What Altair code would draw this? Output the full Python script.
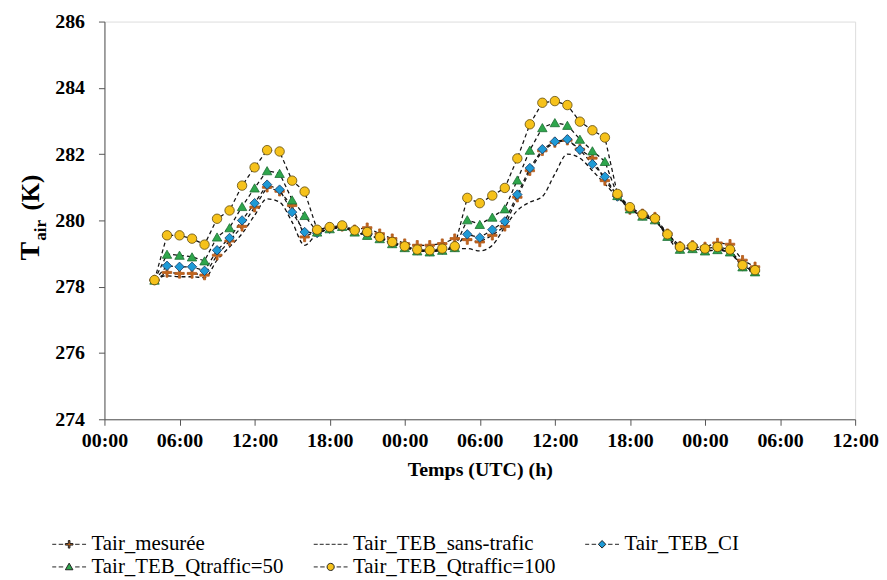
import altair as alt
import pandas as pd

hours = list(range(4, 53))

series_names = ["Tair_mesurée", "Tair_TEB_sans-trafic", "Tair_TEB_CI",
                "Tair_TEB_Qtraffic=50", "Tair_TEB_Qtraffic=100"]

t_mesuree = [278.2, 278.43, 278.4, 278.4, 278.35, 278.95, 279.38, 279.82, 280.4, 281.0,
             280.88, 280.45, 279.5, 279.7, 279.78, 279.82, 279.72, 279.78, 279.6, 279.45,
             279.3, 279.25, 279.25, 279.3, 279.45, 279.42, 279.35, 279.55, 279.82, 280.7,
             281.5, 282.1, 282.35, 282.42, 282.15, 281.88, 281.2, 280.75, 280.33, 280.2,
             280.1, 279.6, 279.22, 279.25, 279.2, 279.32, 279.28, 278.8, 278.6]

t_sans_trafic = [278.2, 278.33, 278.3, 278.3, 278.27, 278.8, 279.2, 279.6, 280.15, 280.65,
                 280.55, 279.95, 279.25, 279.6, 279.72, 279.78, 279.65, 279.55, 279.45, 279.3,
                 279.18, 279.1, 279.08, 279.1, 279.15, 279.15, 279.08, 279.25, 279.8, 280.3,
                 280.55, 280.72, 281.4, 282.0, 281.88, 281.5, 281.1, 280.7, 280.35, 280.12,
                 280.0, 279.5, 279.12, 279.15, 279.08, 279.1, 279.05, 278.58, 278.45]

t_ci = [278.2, 278.63, 278.6, 278.6, 278.48, 279.1, 279.47, 280.0, 280.52, 281.08,
        280.93, 280.25, 279.65, 279.62, 279.75, 279.82, 279.68, 279.58, 279.48, 279.32,
        279.2, 279.1, 279.07, 279.12, 279.2, 279.58, 279.48, 279.72, 279.97, 280.78,
        281.58, 282.15, 282.38, 282.45, 282.13, 281.7, 281.32, 280.72, 280.35, 280.15,
        280.03, 279.55, 279.15, 279.18, 279.1, 279.15, 279.08, 278.62, 278.47]

t_q50 = [278.2, 278.98, 278.95, 278.9, 278.78, 279.5, 279.78, 280.42, 280.98, 281.5,
         281.42, 280.62, 280.15, 279.65, 279.75, 279.82, 279.65, 279.55, 279.45, 279.3,
         279.18, 279.08, 279.05, 279.1, 279.18, 280.02, 279.88, 280.1, 280.35, 281.22,
         282.12, 282.8, 282.95, 282.87, 282.45, 282.1, 281.78, 280.75, 280.35, 280.13,
         280.02, 279.52, 279.13, 279.15, 279.08, 279.12, 279.05, 278.6, 278.45]

t_q100 = [278.2, 279.55, 279.55, 279.45, 279.27, 280.05, 280.3, 281.05, 281.6, 282.12,
          282.08, 281.2, 280.87, 279.72, 279.8, 279.85, 279.7, 279.65, 279.5, 279.35,
          279.22, 279.12, 279.1, 279.15, 279.22, 280.68, 280.52, 280.75, 280.98, 281.87,
          282.9, 283.55, 283.6, 283.48, 282.98, 282.72, 282.5, 280.8, 280.4, 280.18,
          280.06, 279.58, 279.2, 279.22, 279.15, 279.2, 279.12, 278.65, 278.5]

all_values = [t_mesuree, t_sans_trafic, t_ci, t_q50, t_q100]

x_ticks = list(range(0, 61, 6))
y_ticks = list(range(274, 287, 2))

# marker styling (plot)
marker_series = ["Tair_mesurée", "Tair_TEB_CI", "Tair_TEB_Qtraffic=50", "Tair_TEB_Qtraffic=100"]
marker_fill = ["#C4661C", "#1E9AD6", "#2EA64C", "#F6C21B"]
marker_stroke = ["#B0581A", "#1B3D66", "#1D6E34", "#5E4A10"]
cross_path = ("M-1,-0.22L-0.22,-0.22L-0.22,-1L0.22,-1L0.22,-0.22L1,-0.22L1,0.22"
              "L0.22,0.22L0.22,1L-0.22,1L-0.22,0.22L-1,0.22Z")
marker_shapes = [cross_path, "diamond", "triangle-up", "circle"]

# legend symbols: dashes + marker
dash_l = "M-1.7,0L-1.3,0M-1.05,0L-0.6,0"
dash_r = "M0.6,0L1.05,0M1.3,0L1.7,0"
m = 0.38
leg_cross = (f"M{-m},-0.08L-0.08,-0.08L-0.08,{-m}L0.08,{-m}L0.08,-0.08L{m},-0.08"
             f"L{m},0.08L0.08,0.08L0.08,{m}L-0.08,{m}L-0.08,0.08L{-m},0.08Z")
leg_diamond = f"M{-m},0L0,{-m}L{m},0L0,{m}Z"
leg_tri = f"M0,{-m}L{m},{m*0.75}L{-m},{m*0.75}Z"
r = 0.36
leg_circle = f"M{-r},0A{r},{r} 0 1,0 {r},0A{r},{r} 0 1,0 {-r},0Z"
leg_sans = "M-1.7,0L-1.3,0M-1.1,0L-0.7,0M-0.5,0L-0.1,0M0.1,0L0.5,0M0.7,0L1.1,0M1.3,0L1.7,0"
legend_paths = [dash_l + dash_r + leg_cross, leg_sans, dash_l + dash_r + leg_diamond,
                dash_l + dash_r + leg_tri, dash_l + dash_r + leg_circle]
legend_fill = ["#C4661C", "#000000", "#1E9AD6", "#2EA64C", "#F6C21B"]
legend_stroke = ["#222222"] * 5

rows = []
for k, (name, vals) in enumerate(zip(series_names, all_values)):
    for h, v in zip(hours, vals):
        rows.append({"hour": h, "temp": v, "series": name, "idx": k})
df = pd.DataFrame(rows)

serif = "Liberation Serif, Times New Roman, Tinos, Noto Serif, DejaVu Serif, serif"

xscale = alt.Scale(domain=[0, 60], nice=False, zero=False)
yscale = alt.Scale(domain=[274, 286], nice=False, zero=False)

xaxis = alt.Axis(values=x_ticks,
                 labelExpr="(datum.value % 24 < 10 ? '0' : '') + (datum.value % 24) + ':00'",
                 title="Temps (UTC) (h)", titleFont=serif, titleFontWeight="bold",
                 titleFontSize=20, titleColor="black", titlePadding=10,
                 labelFont=serif, labelFontWeight="bold", labelFontSize=20, labelColor="black",
                 labelPadding=5, tickSize=6, grid=False, domainColor="#555", tickColor="#555",
                 labelFlush=False, labelOverlap=False)
yaxis = alt.Axis(values=y_ticks, title=None, labelFont=serif, labelFontWeight="bold",
                 labelFontSize=20, labelColor="black", labelPadding=14, tickSize=6,
                 grid=False, domainColor="#555", tickColor="#555")

X = alt.X("hour:Q", scale=xscale, axis=xaxis)
Y = alt.Y("temp:Q", scale=yscale, axis=yaxis)

base = alt.Chart(df)

lines = base.transform_filter(alt.datum.series != "Tair_TEB_sans-trafic").mark_line(
    strokeDash=[4, 3], strokeWidth=1.25, color="#111111", clip=True
).encode(x=X, y=Y, detail="series:N")

sans = base.transform_filter(alt.datum.series == "Tair_TEB_sans-trafic").mark_line(
    strokeDash=[4, 3], strokeWidth=1.3, color="#111111", clip=True, interpolate="monotone"
).encode(x=X, y=Y)

points = base.transform_filter(alt.datum.series != "Tair_TEB_sans-trafic").mark_point(
    filled=True, size=90, strokeWidth=0.8, opacity=1
).encode(
    x=X, y=Y,
    fill=alt.Fill("series:N", scale=alt.Scale(domain=marker_series, range=marker_fill), legend=None),
    stroke=alt.Stroke("series:N", scale=alt.Scale(domain=marker_series, range=marker_stroke), legend=None),
    shape=alt.Shape("series:N", scale=alt.Scale(domain=marker_series, range=marker_shapes), legend=None),
    order=alt.Order("idx:Q"),
)

leg_df = pd.DataFrame({"hour": [30] * 5, "temp": [300] * 5, "series": series_names})
legend_props = dict(title=None, orient="none", legendX=-46, legendY=515, direction="horizontal",
                    columns=3, symbolSize=400, labelFont=serif, labelFontSize=21,
                    labelColor="black", labelLimit=400, labelOffset=12, columnPadding=27,
                    rowPadding=1, symbolStrokeWidth=1)
legend_layer = alt.Chart(leg_df).mark_point(
    filled=True, strokeWidth=1, clip=True, opacity=1
).encode(
    x=alt.X("hour:Q", scale=xscale, axis=xaxis),
    y=alt.Y("temp:Q", scale=yscale, axis=yaxis),
    fill=alt.Fill("series:N", scale=alt.Scale(domain=series_names, range=legend_fill),
                  legend=alt.Legend(**legend_props), sort=series_names),
    stroke=alt.Stroke("series:N", scale=alt.Scale(domain=series_names, range=legend_stroke),
                      legend=alt.Legend(**legend_props), sort=series_names),
    shape=alt.Shape("series:N", scale=alt.Scale(domain=series_names, range=legend_paths),
                    legend=alt.Legend(**legend_props), sort=series_names),
)

def ytitle(txt, x, y, size):
    return alt.Chart(pd.DataFrame({"t": [txt]})).mark_text(
        angle=270, font=serif, fontWeight="bold", fontSize=size, color="black",
        align="center", baseline="middle"
    ).encode(text="t:N", x=alt.value(x), y=alt.value(y))

t1 = ytitle("T", -74, 231, 28)
t2 = ytitle("air", -64, 210, 17)
t3 = ytitle("(K)", -74, 172, 25)

chart = alt.layer(lines, sans, points, legend_layer, t1, t2, t3).resolve_scale(
    fill="independent", shape="independent", stroke="independent"
).properties(
    width=755, height=400,
    autosize=alt.AutoSizeParams(type="none"),
    padding={"left": 97, "top": 12, "right": 24, "bottom": 159},
).configure_view(stroke=None).configure(background="white")

chart.save("out.html", embed_options={"renderer": "svg", "actions": False})
